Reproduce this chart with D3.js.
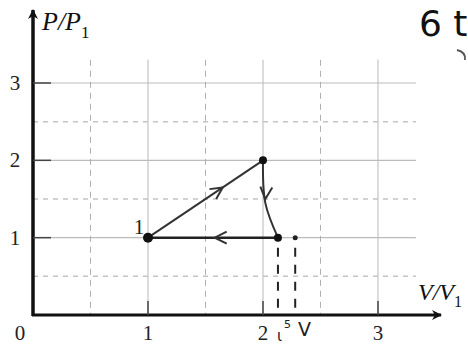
<!DOCTYPE html>
<html>
<head>
<meta charset="utf-8">
<script src="https://cdn.jsdelivr.net/npm/d3@7"></script>
<style>
  body { margin: 0; background: #fff; }
  svg { display: block; }
</style>
</head>
<body>
<div id="chart"></div>
<script>
// P-V cycle, values in units of V1 and P1
const xTicks = [1, 2, 3];
const yTicks = [1, 2, 3];
const halfLines = [0.5, 1.5, 2.5];
const stateV = [1, 2, 2.13];
const stateP = [1, 2, 1];
const extraV = [2.28];   // hand-drawn dot
const extraP = [1];

const width = 468, height = 347;
const x = d3.scaleLinear().domain([0, 3]).range([33, 378]);
const y = d3.scaleLinear().domain([0, 3]).range([315, 83]);

const svg = d3.select("#chart").append("svg")
    .attr("width", width).attr("height", height);

const defs = svg.append("defs");
defs.append("marker").attr("id", "axarrow")
    .attr("viewBox", "0 0 10 10").attr("refX", 9).attr("refY", 5)
    .attr("markerWidth", 10).attr("markerHeight", 10).attr("markerUnits", "userSpaceOnUse")
    .attr("orient", "auto")
  .append("path").attr("d", "M0,0 L10,5 L0,10 L3,5 Z").attr("fill", "#111");

const grid = svg.append("g");
// solid grid lines
grid.selectAll(".vs").data(xTicks).join("line")
    .attr("x1", d => x(d)).attr("x2", d => x(d))
    .attr("y1", y(3.3)).attr("y2", y(0))
    .attr("stroke", "#c4c4c4").attr("stroke-width", 1.2);
grid.selectAll(".hs").data(yTicks).join("line")
    .attr("x1", x(0)).attr("x2", x(3.33))
    .attr("y1", d => y(d)).attr("y2", d => y(d))
    .attr("stroke", "#bbb").attr("stroke-width", 1.2);
// dashed grid lines
grid.selectAll(".vd").data(halfLines).join("line")
    .attr("x1", d => x(d)).attr("x2", d => x(d))
    .attr("y1", y(3.3)).attr("y2", y(0))
    .attr("stroke", "#b0b0b0").attr("stroke-dasharray", "6,5");
grid.selectAll(".hd").data(halfLines).join("line")
    .attr("x1", x(0)).attr("x2", x(3.33))
    .attr("y1", d => y(d)).attr("y2", d => y(d))
    .attr("stroke", "#c4c4c4").attr("stroke-width", 1.5).attr("stroke-dasharray", "5,5");

// axes
svg.append("line").attr("x1", x(0)).attr("x2", x(0))
    .attr("y1", y(0) + 1).attr("y2", 10)
    .attr("stroke", "#111").attr("stroke-width", 3.5).attr("marker-end", "url(#axarrow)");
svg.append("line").attr("x1", x(0) - 1).attr("x2", 441)
    .attr("y1", y(0)).attr("y2", y(0))
    .attr("stroke", "#111").attr("stroke-width", 3).attr("marker-end", "url(#axarrow)");

// ticks
svg.selectAll(".xt").data(xTicks).join("line")
    .attr("x1", d => x(d)).attr("x2", d => x(d))
    .attr("y1", y(0)).attr("y2", y(0) - 14)
    .attr("stroke", "#444").attr("stroke-width", 1.5);
svg.selectAll(".yt").data(yTicks).join("line")
    .attr("x1", x(0)).attr("x2", x(0) + 18)
    .attr("y1", d => y(d)).attr("y2", d => y(d))
    .attr("stroke", "#444").attr("stroke-width", 1.5);

const serif = "'Liberation Serif', 'DejaVu Serif', serif";
svg.selectAll(".xl").data([0].concat(xTicks)).join("text")
    .attr("x", d => d === 0 ? 20 : x(d)).attr("y", 340)
    .attr("text-anchor", "middle").attr("font-family", serif).attr("font-size", 21)
    .attr("fill", "#222").text(d => d);
svg.selectAll(".yl").data(yTicks).join("text")
    .attr("x", 15).attr("y", d => y(d) + 7)
    .attr("text-anchor", "middle").attr("font-family", serif).attr("font-size", 21)
    .attr("fill", "#222").text(d => d);

// axis titles
const pt = svg.append("text").attr("x", 42).attr("y", 30)
    .attr("font-family", serif).attr("font-size", 26).attr("font-style", "italic").attr("fill", "#111");
pt.append("tspan").text("P/P");
pt.append("tspan").attr("font-size", 17).attr("font-style", "normal").attr("dy", 8).text("1");
const vt = svg.append("text").attr("x", 418).attr("y", 300)
    .attr("font-family", serif).attr("font-size", 24).attr("font-style", "italic").attr("fill", "#111");
vt.append("tspan").text("V/V");
vt.append("tspan").attr("font-size", 16).attr("font-style", "normal").attr("dy", 7).text("1");

// cycle
const pts = stateV.map((v, i) => [x(v), y(stateP[i])]);
svg.append("path")
    .attr("d", d3.line()([pts[0], pts[1]]))
    .attr("stroke", "#333").attr("stroke-width", 2).attr("fill", "none");
// 2 -> 3 slightly bowed
const mid23 = [x(2.02), y(1.45)];
svg.append("path")
    .attr("d", d3.line().curve(d3.curveCatmullRom)([pts[1], mid23, pts[2]]))
    .attr("stroke", "#333").attr("stroke-width", 2).attr("fill", "none");
svg.append("path")
    .attr("d", d3.line()([pts[2], pts[0]]))
    .attr("stroke", "#222").attr("stroke-width", 2.5).attr("fill", "none");

// direction arrows (open chevrons)
function chevron(cx, cy, angle) {
  svg.append("path")
      .attr("d", "M-12,-6 L0,0 L-12,6")
      .attr("transform", `translate(${cx},${cy}) rotate(${angle})`)
      .attr("stroke", "#333").attr("stroke-width", 2).attr("fill", "none");
}
const a12 = Math.atan2(pts[1][1] - pts[0][1], pts[1][0] - pts[0][0]) * 180 / Math.PI;
chevron(x(1.65), y(1.65), a12);
chevron(x(2.02), y(1.5), 95);
chevron(x(1.58), y(1), 180);

// state points
svg.selectAll(".pt").data(pts).join("circle")
    .attr("cx", d => d[0]).attr("cy", d => d[1]).attr("r", (d, i) => i === 0 ? 5 : 4)
    .attr("fill", "#111");
svg.append("text").attr("x", 139).attr("y", 234)
    .attr("font-family", serif).attr("font-size", 21).attr("text-anchor", "middle")
    .attr("fill", "#222").text("1");

// hand-drawn additions
svg.selectAll(".ex").data(extraV).join("circle")
    .attr("cx", d => x(d)).attr("cy", (d, i) => y(extraP[i])).attr("r", 2.5).attr("fill", "#222");
svg.selectAll(".drop").data([stateV[2]].concat(extraV)).join("line")
    .attr("x1", d => x(d)).attr("x2", d => x(d))
    .attr("y1", y(1) + 10).attr("y2", y(0) - 2)
    .attr("stroke", "#222").attr("stroke-width", 2).attr("stroke-dasharray", "9,8");
const hand = "'DejaVu Sans', sans-serif";
svg.append("text").attr("x", 277).attr("y", 341).attr("font-family", hand)
    .attr("font-size", 15).attr("fill", "#222").text("ι");
svg.append("text").attr("x", 284).attr("y", 328).attr("font-family", hand)
    .attr("font-size", 11).attr("fill", "#222").text("5");
svg.append("text").attr("x", 298).attr("y", 336).attr("font-family", hand)
    .attr("font-size", 19).attr("fill", "#222").text("V");
svg.append("text").attr("x", 419).attr("y", 36).attr("font-family", hand)
    .attr("font-size", 36).attr("fill", "#111").text("6 t");
svg.append("path").attr("d", "M457,50 Q466,52 465,60")
    .attr("stroke", "#555").attr("stroke-width", 1.8).attr("fill", "none");
</script>
</body>
</html>
